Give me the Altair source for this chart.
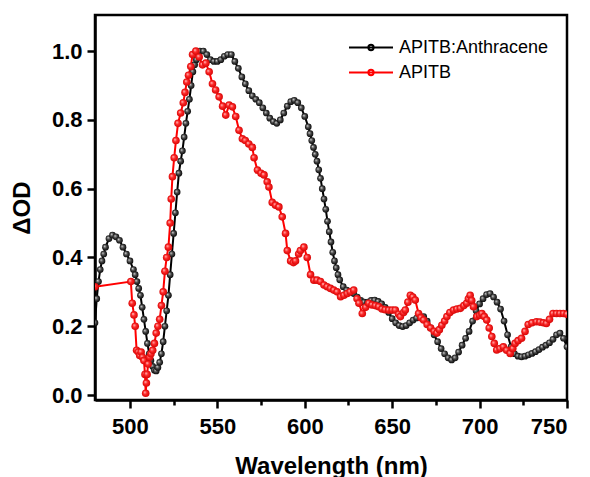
import altair as alt
import pandas as pd

# ---- data ----
black_wl = [480, 481, 482, 483, 484, 485, 486, 488, 490, 492, 494, 496, 498, 500, 502,
            503, 504, 505, 506, 507, 508, 509, 510, 511, 512, 513, 514, 515, 516, 517, 518,
            519, 520, 521, 522, 523, 524, 525, 526, 527, 528, 529, 530, 531, 532, 533, 534,
            535, 536, 537, 538, 540, 542, 544, 546, 548, 550, 552, 554, 556, 558, 560, 562,
            564, 566, 568, 570, 572, 574, 576, 578, 580, 582, 584, 586, 588, 590, 592, 594,
            596, 598, 600, 602, 603, 604, 605, 606, 607, 608, 609, 610, 611, 612, 613, 614,
            615, 616, 617, 618, 619, 620, 622, 624, 626, 628, 630, 632, 634, 636, 638, 640,
            642, 644, 646, 648, 650, 652, 654, 656, 658, 660, 662, 664, 666, 668, 670, 672,
            674, 676, 678, 680, 682, 684, 686, 688, 690, 692, 694, 696, 698, 700, 702, 704,
            706, 708, 710, 712, 714, 716, 718, 720, 722, 724, 726, 728, 730, 732, 734, 736,
            738, 740, 742, 744, 746, 748, 750]
black_od = [0.21, 0.28, 0.33, 0.365, 0.39, 0.41, 0.43, 0.455, 0.465, 0.46, 0.45, 0.43, 0.41, 0.39, 0.365,
            0.35, 0.33, 0.31, 0.29, 0.255, 0.22, 0.185, 0.15, 0.12, 0.10, 0.083, 0.072, 0.07, 0.08, 0.095, 0.12,
            0.155, 0.20, 0.245, 0.29, 0.35, 0.41, 0.47, 0.53, 0.59, 0.645, 0.68, 0.71, 0.75, 0.79, 0.825, 0.86,
            0.90, 0.94, 0.96, 0.975, 1.0, 1.0, 0.99, 0.975, 0.97, 0.97, 0.975, 0.985, 0.99, 0.99, 0.97, 0.95,
            0.925, 0.905, 0.885, 0.87, 0.86, 0.85, 0.835, 0.82, 0.805, 0.795, 0.79, 0.80, 0.82, 0.84, 0.853, 0.857,
            0.85, 0.835, 0.81, 0.78, 0.76, 0.74, 0.72, 0.70, 0.68, 0.655, 0.63, 0.60, 0.57, 0.54, 0.505, 0.475,
            0.445, 0.415, 0.39, 0.37, 0.35, 0.335, 0.315, 0.305, 0.30, 0.295, 0.285, 0.275, 0.27, 0.27, 0.275, 0.276,
            0.272, 0.265, 0.255, 0.24, 0.222, 0.21, 0.202, 0.199, 0.202, 0.21, 0.218, 0.224, 0.228, 0.228, 0.215, 0.195,
            0.175, 0.155, 0.135, 0.12, 0.108, 0.102, 0.108, 0.125, 0.145, 0.165, 0.185, 0.215, 0.245, 0.265, 0.28, 0.292,
            0.295, 0.285, 0.27, 0.25, 0.215, 0.175, 0.14, 0.12, 0.113, 0.111, 0.113, 0.117, 0.121, 0.126, 0.132, 0.139,
            0.145, 0.152, 0.162, 0.175, 0.18, 0.165, 0.14]

red_wl = [480, 500.5, 501.3, 502.3, 503, 503.8, 504.8, 505.6, 506.4, 507.2, 508, 508.6, 509, 509.4,
          509.8, 510.4, 511.2, 512, 513, 514, 515, 516, 517, 518, 519, 520, 521, 522, 523, 523.6,
          524.3, 525.3, 526.3, 527.5, 529, 530.5, 531.5, 532.5, 533.5, 534.8, 535.8, 537.7, 539.6,
          541.5, 543.4, 545.3, 547.2, 549, 551, 553, 554.8, 556.7, 558.6, 560.5, 562.4, 564.3, 566,
          568, 570, 571, 572.9, 575, 576.7, 578.5, 579.5, 581.4, 583.3, 585.2, 587.1, 589, 590,
          591.9, 593.5, 594.7, 596.5, 597.5, 599.5, 601.4, 603.3, 605.2, 607, 609, 611, 612.8, 614.7,
          616.6, 618.5, 620.5, 622.4, 624.3, 626, 628, 629.9, 631, 632.9, 634.8, 636.6, 638.5, 640.4,
          642.3, 644.2, 646, 648, 650, 651.8, 653.7, 654.7, 656.5, 657.5, 659, 660.4, 661.8, 663.2,
          665.1, 666.5, 668, 670, 672, 674, 675.6, 677, 678.4, 680, 681.3, 683, 685.1, 687, 689, 691,
          692.6, 693.6, 694.6, 695.5, 696.5, 698.4, 700, 701.3, 702.7, 704.1, 705.5, 707, 708.4, 709.8,
          711.7, 713.6, 715.5, 717.5, 719, 720.3, 722, 724, 726, 727.8, 730, 732.5, 734.5, 736.5,
          738.2, 740, 742, 744, 746, 748, 750]
red_od = [0.315, 0.33, 0.267, 0.233, 0.2, 0.13, 0.125, 0.115, 0.125, 0.11, 0.10, 0.06, 0.005, 0.035,
          0.06, 0.09, 0.11, 0.12, 0.13, 0.15, 0.18, 0.2, 0.22, 0.26, 0.30, 0.36, 0.40, 0.43, 0.50, 0.57,
          0.635, 0.69, 0.74, 0.79, 0.82, 0.85, 0.88, 0.91, 0.93, 0.955, 0.99, 1.0, 0.983,
          0.96, 0.965, 0.94, 0.905, 0.887, 0.867, 0.84, 0.814, 0.843, 0.838, 0.81, 0.77, 0.745, 0.74,
          0.73, 0.72, 0.69, 0.654, 0.645, 0.64, 0.62, 0.605, 0.56, 0.552, 0.547, 0.518, 0.47, 0.42,
          0.39, 0.385, 0.39, 0.41, 0.42, 0.43, 0.40, 0.35, 0.334, 0.334, 0.33, 0.32, 0.315, 0.31,
          0.305, 0.30, 0.286, 0.29, 0.295, 0.30, 0.305, 0.28, 0.267, 0.237, 0.255, 0.267, 0.262, 0.26,
          0.257, 0.25, 0.248, 0.247, 0.247, 0.247, 0.235, 0.228, 0.24, 0.247, 0.27, 0.29, 0.285, 0.276,
          0.237, 0.225, 0.218, 0.205, 0.195, 0.185, 0.18, 0.19, 0.203, 0.215, 0.228, 0.24, 0.247, 0.25, 0.252, 0.26,
          0.267, 0.28, 0.29, 0.275, 0.257, 0.228, 0.232, 0.237, 0.228, 0.218, 0.195, 0.17, 0.15, 0.131,
          0.135, 0.14, 0.13, 0.121, 0.135, 0.15, 0.158, 0.165, 0.185, 0.205, 0.21, 0.213, 0.212, 0.21,
          0.208, 0.22, 0.237, 0.237, 0.237, 0.237, 0.235]

series_names = ["APITB:Anthracene", "APITB"]
series_colors = ["#000000", "#ff0000"]
x_ticks = [500, 525, 550, 575, 600, 625, 650, 675, 700, 725, 750]
y_ticks = [0.0, 0.1, 0.2, 0.3, 0.4, 0.5, 0.6, 0.7, 0.8, 0.9, 1.0]

black = pd.DataFrame({"wl": black_wl, "od": black_od, "series": series_names[0]})
red = pd.DataFrame({"wl": red_wl, "od": red_od, "series": series_names[1]})
both = pd.concat([black, red], ignore_index=True)
both["order"] = range(len(both))

FONT = "Liberation Sans"

x_enc = alt.X("wl:Q", scale=alt.Scale(domain=[480, 750], nice=False, zero=False),
              axis=alt.Axis(values=x_ticks, title="Wavelength (nm)",
                            labelExpr="datum.value % 50 === 0 ? datum.label : ''",
                            tickSize={"condition": {"test": "datum.value % 50 === 0", "value": 8}, "value": 5},
                            labelPadding=8, titlePadding=17))
y_enc = alt.Y("od:Q", scale=alt.Scale(domain=[-0.0145, 1.105], nice=False, zero=False),
              axis=alt.Axis(values=y_ticks, title="ΔOD",
                            labelExpr="round(datum.value*10) % 2 === 0 ? format(datum.value, '.1f') : ''",
                            tickSize={"condition": {"test": "round(datum.value*10) % 2 === 0", "value": 8}, "value": 5},
                            labelPadding=5, titlePadding=17))

legend_symbol = "M-1,0L1,0M-0.12,0A0.12,0.12 0 1,0 0.12,0A0.12,0.12 0 1,0 -0.12,0"

lines = alt.Chart(both).mark_line(strokeWidth=2, clip=True).encode(
    x=x_enc, y=y_enc,
    color=alt.Color("series:N", scale=alt.Scale(domain=series_names, range=series_colors),
                    sort=series_names,
                    legend=alt.Legend(title=None, orient="none", legendX=253, legendY=20,
                                      symbolType=legend_symbol, symbolSize=1936,
                                      symbolStrokeWidth=2, labelFontSize=18, labelFont=FONT,
                                      labelOffset=5, rowPadding=0, clipHeight=25, padding=0)),
    detail="series:N",
    order="order:Q",
)

black_grad = {"gradient": "radial", "x1": 0.35, "y1": 0.35, "r1": 0.0,
              "x2": 0.5, "y2": 0.5, "r2": 0.55,
              "stops": [{"offset": 0, "color": "#d8d8d8"},
                        {"offset": 0.45, "color": "#4a4a4a"},
                        {"offset": 1, "color": "#000000"}]}
red_grad = {"gradient": "radial", "x1": 0.35, "y1": 0.35, "r1": 0.0,
            "x2": 0.5, "y2": 0.5, "r2": 0.55,
            "stops": [{"offset": 0, "color": "#ffd6d6"},
                      {"offset": 0.4, "color": "#ff2a2a"},
                      {"offset": 1, "color": "#d00000"}]}

black_pts = alt.Chart(black).mark_circle(fill=black_grad, size=45, opacity=1, clip=True).encode(x="wl:Q", y="od:Q")
red_pts = alt.Chart(red).mark_circle(fill=red_grad, size=58, opacity=1, clip=True).encode(x="wl:Q", y="od:Q")

chart = alt.layer(lines, black_pts, red_pts).properties(
    width=472, height=385,
    autosize=alt.AutoSizeParams(type="none"),
    padding={"left": 95, "right": 23, "top": 15, "bottom": 77},
).configure_view(stroke="black", strokeWidth=2.5).configure_axis(
    grid=False, domainColor="black", domainWidth=2.5, tickColor="black", tickWidth=2.5,
    labelFont=FONT, labelFontSize=22, labelFontWeight="bold", labelColor="black",
    titleFont=FONT, titleFontSize=24, titleFontWeight="bold", titleColor="black",
).configure_legend(labelColor="black")

chart.save("out.html", embed_options={"renderer": "svg", "actions": False})
